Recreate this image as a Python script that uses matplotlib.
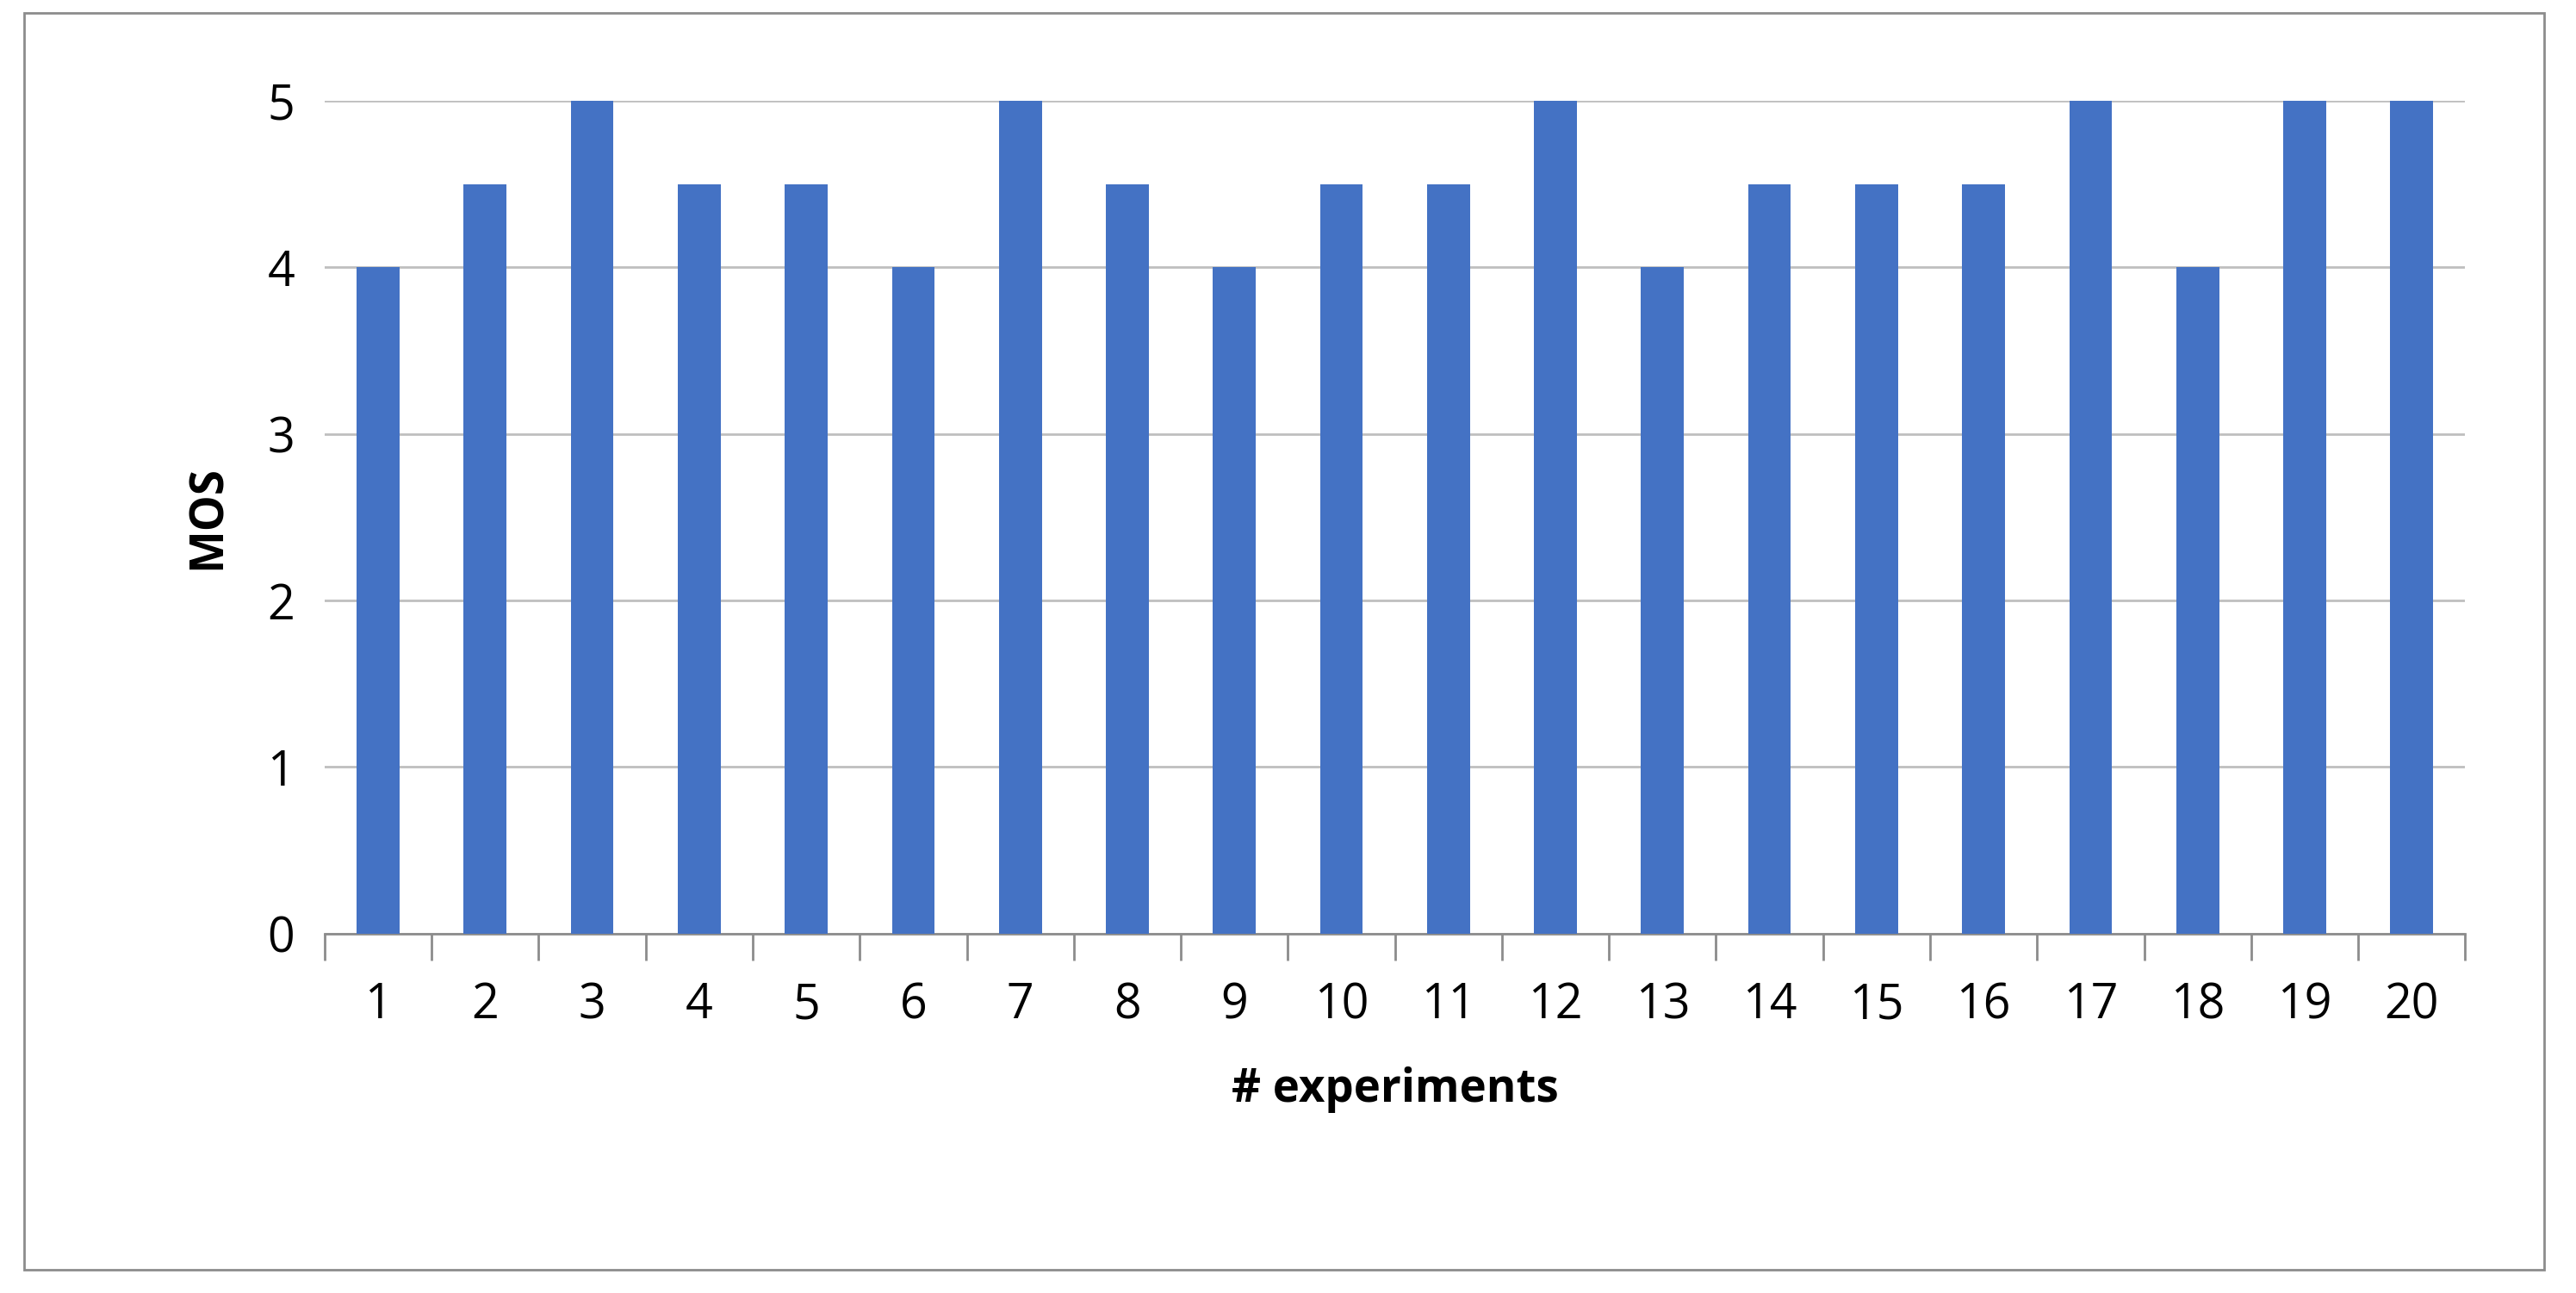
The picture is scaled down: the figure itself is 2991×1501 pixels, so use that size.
import matplotlib
matplotlib.use("Agg")
import matplotlib.pyplot as plt
from matplotlib.patches import Rectangle

experiments = [str(i) for i in range(1, 21)]
mos = [4, 4.5, 5, 4.5, 4.5, 4, 5, 4.5, 4, 4.5, 4.5, 5, 4, 4.5, 4.5, 4.5, 5, 4, 5, 5]
yticks = [0, 1, 2, 3, 4, 5]

plt.rcParams['font.family'] = ['Open Sans', 'DejaVu Sans']
fig = plt.figure(figsize=(29.91, 15.01), dpi=100)
fig.patches.append(Rectangle((0.0095, 0.018), 0.978, 0.972, transform=fig.transFigure,
                             fill=False, edgecolor='#8c8c8c', linewidth=2))
ax = fig.add_axes([0.126, 0.278, 0.831, 0.644])
x = range(len(experiments))
ax.bar(x, mos, width=0.4, color='#4472C4', zorder=3)
ax.set_xlim(-0.5, len(experiments) - 0.5)
ax.set_ylim(0, 5)
ax.set_yticks(yticks)
ax.set_yticklabels([str(v) for v in yticks], fontsize=40)
ax.yaxis.grid(True, color='#bfbfbf', linewidth=2, zorder=0)
ax.tick_params(axis='y', length=0, pad=25)
ax.set_xticks([i + 0.5 for i in range(-1, len(experiments))], minor=False)
ax.set_xticklabels([])
ax.set_xticks(list(x), minor=True)
ax.set_xticklabels(experiments, minor=True, fontsize=40)
ax.tick_params(axis='x', which='major', length=22, width=2, color='#8c8c8c')
ax.tick_params(axis='x', which='minor', length=0, pad=40)
for s in ['top', 'right', 'left']:
    ax.spines[s].set_visible(False)
ax.spines['bottom'].set_color('#8c8c8c')
ax.spines['bottom'].set_linewidth(2)
ax.set_ylabel('MOS', fontsize=38, fontweight='bold', labelpad=30)
ax.set_xlabel('# experiments', fontsize=38, fontweight='bold', labelpad=30)
fig.savefig('out.png', dpi=100)
